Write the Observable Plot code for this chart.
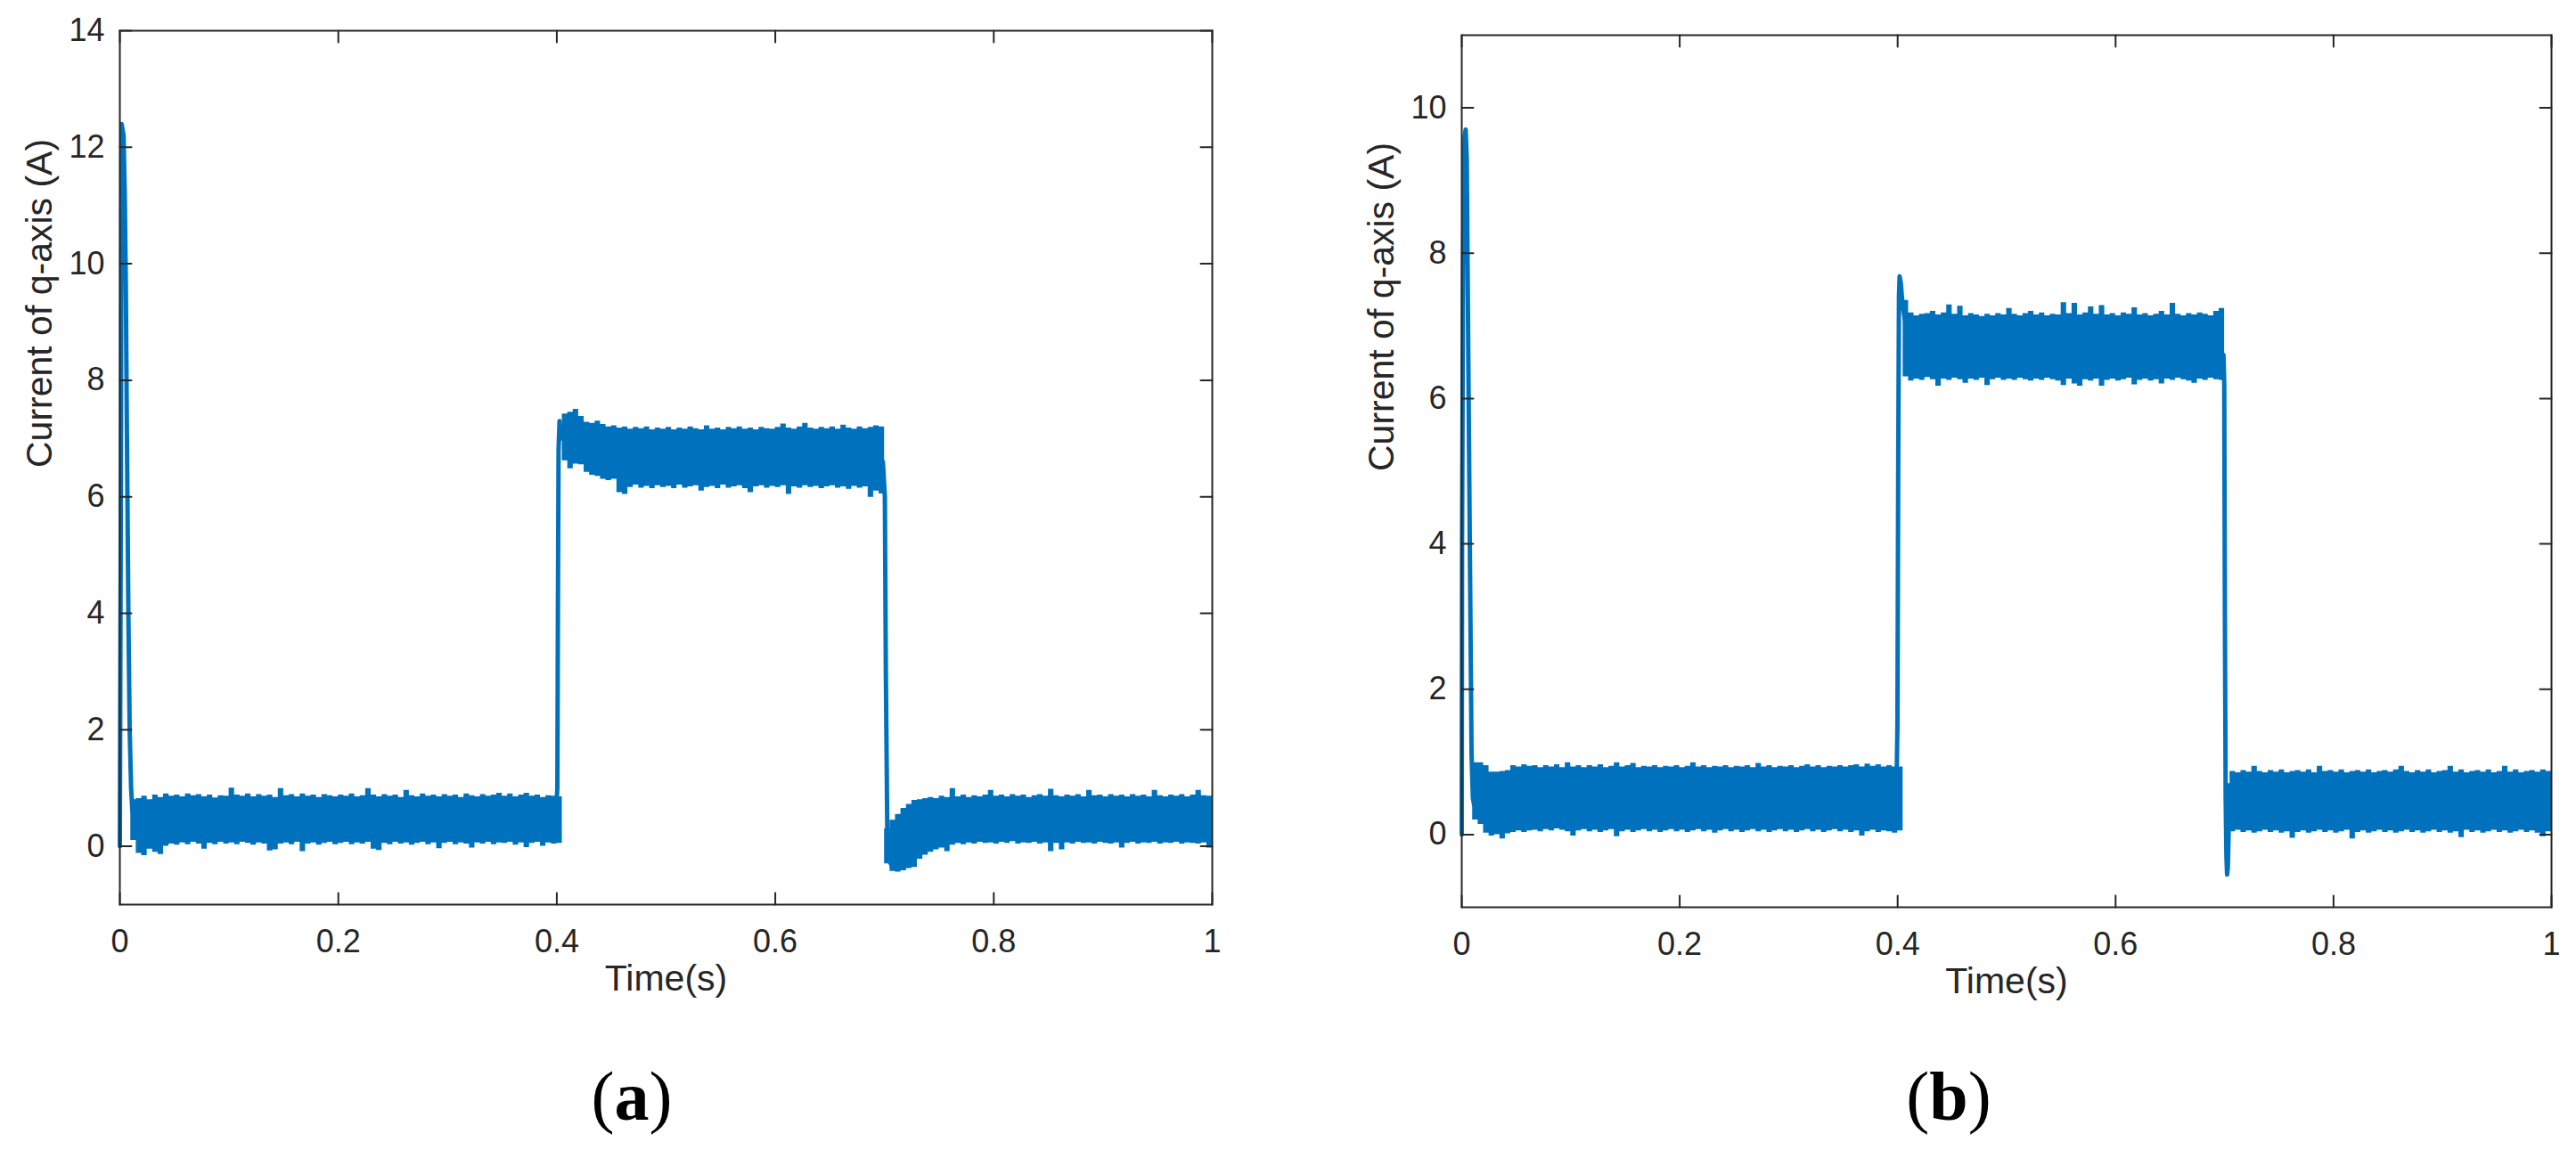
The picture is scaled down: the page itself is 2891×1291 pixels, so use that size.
<!DOCTYPE html>
<html>
<head>
<meta charset="utf-8">
<script src="https://cdn.jsdelivr.net/npm/d3@7"></script>
<script src="https://cdn.jsdelivr.net/npm/@observablehq/plot@0.6"></script>
<style>
  html, body { margin: 0; padding: 0; background: #fff; }
  #wrap { position: relative; width: 2891px; height: 1291px; overflow: hidden; background: #fff; }
  .panel { position: absolute; top: 0; }
  .cap { position: absolute; top: 1192px; font-family: 'Liberation Serif', 'Times New Roman', serif; font-size: 78px; line-height: 78px; transform: translateX(-50%); white-space: nowrap; color: #000; }
  .cap b { font-weight: bold; }
</style>
</head>
<body>
<div id="wrap">
  <div class="panel" id="pa" style="left:0px"></div>
  <div class="panel" id="pb" style="left:1500px"></div>
  <div class="cap" style="left:709px">(<b>a</b>)</div>
  <div class="cap" style="left:2187px">(<b>b</b>)</div>
</div>
<script>
// ---------- data ----------
const dt = 0.005;                       // sample spacing of the noise envelopes (s)
const xTicks = [0, 0.2, 0.4, 0.6, 0.8, 1];
const yTicksA = [0, 2, 4, 6, 8, 10, 12, 14];
const yTicksB = [0, 2, 4, 6, 8, 10];
const yDomainA = [-1, 14];
const yDomainB = [-1, 11];
const xLabel = "Time(s)";
const yLabel = "Current of q-axis (A)";

// panel (a): upper / lower edge of the noisy current band, t = 0, 0.005, ... 1
const hiA = [
  NaN, NaN, 0.80, 0.82, 0.86, 0.80, 0.88, 0.84, 0.90, 0.86, 0.88, 0.85, 0.90, 0.87, 0.89, 0.85, 0.88, 0.83, 0.87, 0.86,
  1.00, 0.88, 0.86, 0.90, 0.85, 0.89, 0.86, 0.88, 0.84, 0.99, 0.87, 0.89, 0.85, 0.90, 0.86, 0.88, 0.84, 0.89, 0.87, 0.85,
  0.88, 0.86, 0.90, 0.85, 0.87, 0.99, 0.88, 0.85, 0.89, 0.86, 0.88, 0.84, 0.96, 0.87, 0.85, 0.90, 0.86, 0.88, 0.85, 0.89,
  0.86, 0.88, 0.84, 0.90, 0.87, 0.85, 0.89, 0.86, 0.88, 0.91, 0.86, 0.90, 0.85, 0.88, 0.91, 0.86, 0.88, 0.84, 0.87, 0.86,
  0.85, 7.42, 7.45, 7.50, 7.38, 7.28, 7.26, 7.30, 7.24, 7.20, 7.22, 7.18, 7.20, 7.16, 7.19, 7.17, 7.20, 7.15, 7.18, 7.16,
  7.19, 7.15, 7.18, 7.16, 7.20, 7.17, 7.15, 7.22, 7.16, 7.18, 7.15, 7.19, 7.17, 7.20, 7.16, 7.18, 7.15, 7.19, 7.17, 7.16,
  7.19, 7.25, 7.18, 7.16, 7.20, 7.26, 7.18, 7.16, 7.19, 7.17, 7.20, 7.16, 7.23, 7.18, 7.16, 7.20, 7.17, 7.19, 7.22, 7.20,
  0.30, 0.45, 0.55, 0.65, 0.72, 0.79, 0.80, 0.82, 0.84, 0.82, 0.86, 0.84, 0.99, 0.85, 0.88, 0.84, 0.87, 0.85, 0.88, 0.96,
  0.86, 0.88, 0.85, 0.89, 0.86, 0.88, 0.84, 0.87, 0.89, 0.86, 0.98, 0.87, 0.85, 0.88, 0.86, 0.89, 0.85, 0.96, 0.87, 0.88,
  0.85, 0.89, 0.86, 0.88, 0.85, 0.89, 0.86, 0.88, 0.85, 0.96, 0.87, 0.85, 0.88, 0.86, 0.89, 0.85, 0.88, 0.96, 0.87, 0.86,
  0.86
];
const loA = [
  NaN, NaN, 0.10, -0.12, -0.16, -0.05, -0.10, -0.14, 0.00, 0.04, 0.02, 0.06, 0.03, 0.07, 0.04, -0.05, 0.05, 0.03, 0.07, 0.04,
  0.06, 0.03, 0.07, 0.05, 0.02, 0.06, 0.04, -0.08, -0.06, 0.04, 0.06, 0.03, 0.07, -0.09, 0.04, 0.06, 0.02, 0.05, 0.07, 0.03,
  0.05, 0.07, 0.03, 0.06, 0.04, 0.07, -0.05, -0.07, 0.05, 0.03, 0.07, 0.04, 0.06, 0.02, 0.05, 0.07, 0.03, 0.06, -0.04, 0.05,
  0.07, 0.03, 0.06, 0.04, -0.03, 0.06, 0.04, 0.07, 0.03, 0.06, 0.05, 0.07, 0.02, 0.06, -0.02, 0.05, 0.07, 0.00, 0.06, 0.04,
  0.05, 6.62, 6.48, 6.56, 6.55, 6.42, 6.37, 6.35, 6.30, 6.28, 6.30, 6.07, 6.04, 6.16, 6.20, 6.15, 6.18, 6.14, 6.19, 6.16,
  6.18, 6.14, 6.20, 6.15, 6.17, 6.19, 6.10, 6.16, 6.18, 6.14, 6.20, 6.15, 6.17, 6.19, 6.14, 6.07, 6.17, 6.19, 6.15, 6.18,
  6.16, 6.19, 6.04, 6.17, 6.15, 6.19, 6.16, 6.18, 6.14, 6.17, 6.19, 6.15, 6.17, 6.13, 6.18, 6.15, 6.17, 5.99, 6.10, 6.05,
  -0.30, -0.43, -0.44, -0.42, -0.38, -0.36, -0.22, -0.15, -0.10, -0.06, -0.03, -0.09, 0.02, 0.05, 0.03, 0.06, 0.04, 0.07, 0.05, 0.06,
  0.04, 0.07, 0.05, 0.08, 0.04, 0.06, 0.05, 0.07, 0.04, 0.06, -0.09, 0.05, -0.06, 0.06, 0.04, 0.07, 0.05, 0.06, 0.04, 0.07,
  0.05, 0.04, 0.06, -0.03, 0.05, 0.07, 0.04, 0.06, 0.05, 0.07, 0.04, 0.06, 0.05, 0.07, 0.04, 0.06, 0.05, 0.04, 0.06, -0.03,
  0.00
];

// panel (b)
const hiB = [
  NaN, NaN, 0.99, 0.99, 0.95, 0.86, 0.86, 0.87, 0.88, 0.95, 0.93, 0.96, 0.94, 0.95, 0.92, 0.95, 0.93, 0.96, 0.92, 0.99,
  0.93, 0.95, 0.92, 0.95, 0.93, 0.96, 0.92, 0.94, 0.99, 0.93, 0.95, 0.98, 0.92, 0.94, 0.93, 0.95, 0.92, 0.94, 0.93, 0.95,
  0.92, 0.94, 0.99, 0.93, 0.95, 0.92, 0.94, 0.93, 0.95, 0.92, 0.94, 0.93, 0.95, 0.92, 0.98, 0.93, 0.95, 0.92, 0.94, 0.93,
  0.95, 0.92, 0.94, 0.96, 0.93, 0.95, 0.92, 0.94, 0.93, 0.95, 0.93, 0.95, 0.96, 0.93, 0.97, 0.94, 0.96, 0.93, 0.95, 0.93,
  0.93, 7.35, 7.18, 7.14, 7.16, 7.17, 7.20, 7.15, 7.18, 7.29, 7.16, 7.27, 7.14, 7.17, 7.15, 7.13, 7.16, 7.14, 7.17, 7.15,
  7.24, 7.16, 7.14, 7.17, 7.20, 7.15, 7.18, 7.14, 7.16, 7.15, 7.32, 7.17, 7.31, 7.15, 7.18, 7.26, 7.16, 7.28, 7.15, 7.17,
  7.14, 7.18, 7.16, 7.25, 7.15, 7.17, 7.14, 7.16, 7.20, 7.15, 7.31, 7.16, 7.14, 7.17, 7.15, 7.18, 7.16, 7.14, 7.20, 7.24,
  0.70, 0.87, 0.85, 0.88, 0.86, 0.94, 0.87, 0.85, 0.88, 0.86, 0.89, 0.85, 0.87, 0.88, 0.86, 0.89, 0.85, 0.94, 0.87, 0.88,
  0.86, 0.89, 0.85, 0.87, 0.88, 0.86, 0.89, 0.85, 0.87, 0.88, 0.86, 0.89, 0.94, 0.87, 0.85, 0.88, 0.86, 0.89, 0.85, 0.87,
  0.88, 0.94, 0.86, 0.89, 0.85, 0.87, 0.88, 0.86, 0.89, 0.85, 0.87, 0.94, 0.86, 0.89, 0.85, 0.87, 0.88, 0.86, 0.89, 0.87,
  0.88
];
const loB = [
  NaN, NaN, 0.20, 0.14, 0.02, -0.02, 0.00, -0.06, 0.01, 0.03, 0.05, 0.03, 0.05, 0.06, 0.04, 0.07, 0.05, 0.08, 0.06, 0.04,
  -0.02, 0.05, 0.07, 0.04, 0.06, 0.03, 0.05, 0.07, -0.03, 0.04, 0.06, 0.03, 0.05, 0.07, 0.04, 0.06, 0.03, 0.05, 0.07, 0.04,
  0.06, 0.03, 0.05, 0.07, 0.04, 0.06, 0.02, 0.05, 0.07, 0.04, 0.06, 0.03, 0.05, 0.07, 0.04, 0.06, 0.03, 0.05, 0.07, 0.04,
  0.06, 0.03, 0.05, 0.07, 0.04, 0.06, 0.03, 0.05, 0.07, 0.04, 0.06, 0.03, 0.05, -0.02, 0.04, 0.06, 0.03, 0.05, 0.04, 0.02,
  0.05, 6.30, 6.24, 6.27, 6.25, 6.29, 6.26, 6.17, 6.27, 6.25, 6.28, 6.26, 6.21, 6.27, 6.25, 6.28, 6.18, 6.26, 6.28, 6.25,
  6.27, 6.25, 6.28, 6.26, 6.24, 6.27, 6.25, 6.28, 6.26, 6.24, 6.18, 6.27, 6.20, 6.17, 6.26, 6.24, 6.27, 6.17, 6.25, 6.27,
  6.24, 6.26, 6.28, 6.19, 6.25, 6.27, 6.24, 6.26, 6.20, 6.27, 6.25, 6.28, 6.26, 6.24, 6.21, 6.27, 6.25, 6.28, 6.26, 6.25,
  0.10, 0.04, 0.06, 0.03, 0.05, 0.02, 0.04, 0.06, 0.03, 0.05, 0.02, 0.04, -0.05, 0.03, 0.05, 0.02, 0.04, 0.06, 0.03, 0.05,
  0.02, 0.04, 0.06, -0.06, 0.03, 0.05, 0.02, 0.04, 0.06, 0.03, 0.05, 0.02, 0.04, 0.06, 0.03, 0.05, 0.02, 0.04, 0.06, 0.03,
  0.05, 0.02, 0.04, -0.04, 0.06, 0.03, 0.05, 0.02, 0.04, 0.06, 0.03, 0.05, 0.02, 0.04, 0.06, 0.03, 0.05, 0.02, -0.03, 0.04,
  0.05
];

// transients (start-up spike, step up at 0.4 s, step down at 0.7 s)
const startAt = [0, 0.001, 0.0016, 0.0034, 0.0045, 0.0055, 0.0065, 0.0078, 0.009, 0.0103, 0.0115];
const startAv = [0, 6.5, 12.4, 12.2, 11.2, 9.6, 7.0, 4.0, 2.0, 1.0, 0.6];
const riseAt  = [0.399, 0.4005, 0.401, 0.4016, 0.4025, 0.404];
const riseAv  = [0.5, 1.0, 4.0, 6.8, 7.3, 7.0];
const fallAt  = [0.6985, 0.7003, 0.7012, 0.7025, 0.7045, 0.707, 0.709];
const fallAv  = [6.6, 6.0, 3.0, 0.3, -0.25, -0.35, -0.3];

const startBt = [0, 0.0003, 0.0012, 0.0026, 0.0036, 0.0046, 0.0058, 0.0074, 0.009, 0.0102, 0.0115];
const startBv = [0, 4.0, 7.8, 9.6, 9.7, 9.3, 7.0, 4.0, 1.1, 0.5, 0.4];
const riseBt  = [0.3988, 0.3998, 0.4005, 0.4012, 0.4018, 0.4028, 0.4045, 0.407];
const riseBv  = [0.5, 1.5, 5.0, 7.4, 7.68, 7.6, 7.3, 7.05];
const fallBt  = [0.699, 0.6997, 0.7003, 0.701, 0.7017, 0.7023, 0.703, 0.704];
const fallBv  = [6.6, 6.2, 3.0, 0.5, -0.3, -0.55, -0.45, 0.2];

// ---------- drawing ----------
const blue = "#0072BD";
const ink = "#262626";
const tickShape = { draw(ctx, l) { ctx.moveTo(0, 0); ctx.lineTo(0, -l); } };

function panel({hi, lo, trans, yDomain, yTicks, width, ml, mr, mt, mb}) {
  const band = hi.map((h, i) => ({t: i * dt, hi: h, lo: lo[i]}));
  const tr = trans.flatMap(([seg, ts, vs]) => ts.map((t, i) => ({seg, t, v: vs[i]})));
  const tick = {length: 13, anchor: "start", shape: tickShape, stroke: ink, strokeWidth: 2};
  return Plot.plot({
    width, height: 1150,
    marginLeft: ml, marginRight: mr, marginTop: mt, marginBottom: mb,
    x: {domain: [0, 1]},
    y: {domain: yDomain},
    style: {fontFamily: "'Liberation Sans', Arial, Helvetica, sans-serif", color: ink, background: "white", overflow: "visible"},
    marks: [
      Plot.areaY(band, {x: "t", y1: "lo", y2: "hi", curve: "step-after", fill: blue}),
      Plot.line(tr, {x: "t", y: "v", z: "seg", stroke: blue, strokeWidth: 5}),
      Plot.frame({stroke: ink, strokeWidth: 2}),
      Plot.vector(xTicks, {x: d => d, frameAnchor: "bottom", rotate: 0, ...tick}),
      Plot.vector(xTicks, {x: d => d, frameAnchor: "top", rotate: 180, ...tick}),
      Plot.vector(yTicks, {y: d => d, frameAnchor: "left", rotate: 90, ...tick}),
      Plot.vector(yTicks, {y: d => d, frameAnchor: "right", rotate: -90, ...tick}),
      Plot.axisX(xTicks, {tickSize: 0, tickPadding: 28, tickFormat: d => String(d), fontSize: 36, fill: ink, label: null}),
      Plot.axisY(yTicks, {tickSize: 0, tickPadding: 17, tickFormat: d => String(d), fontSize: 36, fill: ink, label: null}),
      Plot.text([xLabel], {text: d => d, frameAnchor: "bottom", dy: 96, fontSize: 41, fill: ink}),
      Plot.text([yLabel], {text: d => d, frameAnchor: "left", rotate: -90, dx: -90, fontSize: 41, fill: ink})
    ]
  });
}

document.getElementById("pa").appendChild(panel({
  hi: hiA, lo: loA,
  trans: [["start", startAt, startAv], ["rise", riseAt, riseAv], ["fall", fallAt, fallAv]],
  yDomain: yDomainA, yTicks: yTicksA,
  width: 1400, ml: 134, mr: 40, mt: 34, mb: 135
}));
document.getElementById("pb").appendChild(panel({
  hi: hiB, lo: loB,
  trans: [["start", startBt, startBv], ["rise", riseBt, riseBv], ["fall", fallBt, fallBv]],
  yDomain: yDomainB, yTicks: yTicksB,
  width: 1391, ml: 140, mr: 28, mt: 39, mb: 132
}));
</script>
</body>
</html>
